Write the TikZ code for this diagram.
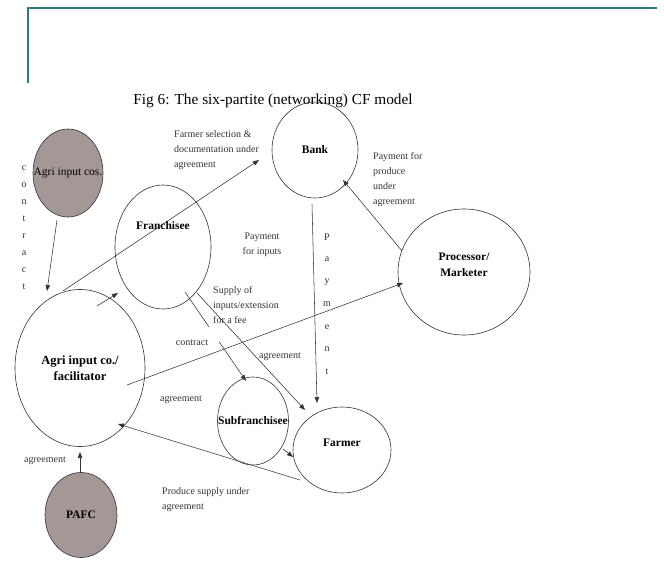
\documentclass[tikz,border=0pt]{standalone}
\usepackage{fontspec}
\setmainfont{Liberation Serif}
\usetikzlibrary{shapes.geometric,arrows.meta,calc}
\definecolor{frameteal}{RGB}{48,122,122}
\definecolor{shade}{RGB}{164,152,151}

\begin{document}
\begin{tikzpicture}[x=1pt, y=-1pt, >={Triangle[length=6pt,width=4.5pt]},
  party/.style={draw, ellipse, inner sep=0pt, line width=0.6pt, draw=black!80},
  who/.style={font=\fontsize{11.5}{16}\selectfont\bfseries, align=center},
  note/.style={font=\fontsize{10}{15}\selectfont, align=left, inner sep=0pt, text=black!80},
  link/.style={line width=0.55pt, draw=black!80}]
  \useasboundingbox (0,0) rectangle (664,569);
  \draw[frameteal, line width=2pt] (28,83) -- (28,8) -- (657,8);
  \node[font=\fontsize{15.3}{18}\selectfont] (title) at (273,101) {Fig 6: The six-partite (networking) CF model};

  \node[party, fill=shade, minimum width=70, minimum height=88, label={[font=\fontsize{11.5}{13}\selectfont]center:Agri input cos.}] (cos) at (68,173) {};
  \node[party, minimum width=130, minimum height=157, label={[who, font=\fontsize{12.5}{16}\selectfont\bfseries]center:Agri input co./\\facilitator}] (fac) at (80,368) {};
  \node[party, minimum width=96, minimum height=124, label={[who, yshift=21pt]center:Franchisee}] (fr) at (163,247) {};
  \node[party, minimum width=86, minimum height=96, label={[who]center:Bank}] (bank) at (315,150) {};
  \node[party, minimum width=132, minimum height=126, label={[who, yshift=7pt]center:Processor/\\Marketer}] (proc) at (464,272) {};
  \node[party, minimum width=71, minimum height=88, label={[who]center:Subfranchisee}] (sub) at (253,421) {};
  \node[party, minimum width=98, minimum height=86, label={[who, yshift=7pt]center:Farmer}] (farm) at (342,450) {};
  \node[party, fill=shade, minimum width=72, minimum height=85, label={[who]center:PAFC}] (pafc) at (81,515) {};

  % connectors
  \draw[link,->] ($(cos)+(-11,47)$) -- ($(fac)+(-33,-77)$);
  \draw[link,->] ($(fac)+(-17,-77)$) -- ($(bank)+(-56,10)$);
  \draw[link,->] ($(fac)+(17,-62)$) -- ($(fr)+(-45,46)$);
  \path ($(fr)+(22,45)$) -- ($(sub)+(-7,-40)$) coordinate[pos=0.39] (cut1) coordinate[pos=0.56] (cut2);
  \draw[link] ($(fr)+(22,45)$) -- (cut1);
  \draw[link,->] (cut2) -- ($(sub)+(-7,-40)$);
  \draw[link,->] ($(fr)+(34,46)$) -- ($(farm)+(-37,-40)$);
  \draw[link,->] ($(fac)+(47,17)$) -- ($(proc)+(-61,11)$);
  \draw[link,->] ($(bank)+(-3,54)$) -- ($(farm)+(-25,-47)$);
  \draw[link,->] ($(proc)+(-62,-21)$) -- ($(bank)+(28,30)$);
  \draw[link,->] ($(farm)+(-42,30)$) -- ($(fac)+(38,56)$);
  \draw[link,->] ($(sub)+(30,28)$) -- ($(farm)+(-49,7)$);
  \draw[link,->] ($(pafc)+(-1,-42)$) -- ($(fac)+(0,84)$);

  % labels
  \node[note, anchor=west] (selnote) at (174,150) {Farmer selection \&\\documentation under\\agreement};
  \node[note, align=center] (paynote) at (262,245) {Payment\\for inputs};
  \node[note, anchor=west] (supnote) at (213,305) {Supply of\\inputs/extension\\for a fee};
  \node[note] (contnote) at (192,343) {contract};
  \node[note] (agrnote) at (280,357) {agreement};
  \node[note] (agrmid) at (181,400) {agreement};
  \node[note, anchor=west] (prodnote) at (373,180) {Payment for\\produce\\under\\agreement};
  \node[note, anchor=west] (supplynote) at (162,500) {Produce supply under\\agreement};
  \node[note] (agrpafc) at (45,461) {agreement};
  \foreach \ch [count=\i from 0] in {c,o,n,t,r,a,c,t}
    \node[note] (ct\i) at (24,{168+17*\i}) {\ch};
  \foreach \ch [count=\i from 0] in {P,a,y,m,e,n,t}
    \node[note] (pm\i) at (327,{237+22.5*\i}) {\ch};
\end{tikzpicture}
\end{document}
